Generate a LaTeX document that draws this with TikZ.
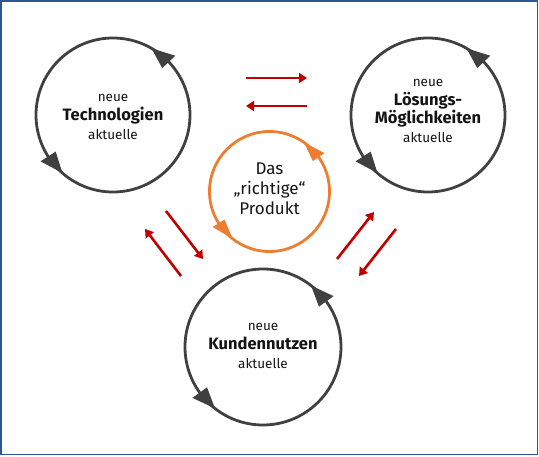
\documentclass[tikz,border=0pt]{standalone}
\usepackage{fontspec}
\setmainfont{Fira Sans}
\usetikzlibrary{arrows.meta}
\definecolor{cgray}{RGB}{64,64,64}
\definecolor{corange}{RGB}{237,125,49}
\definecolor{cred}{RGB}{192,0,0}
\definecolor{cblue}{RGB}{47,85,151}
\definecolor{ctext}{RGB}{20,20,20}
\newcommand{\bigb}[1]{{\fontsize{16.5}{19}\selectfont\bfseries #1}}
\begin{document}
\begin{tikzpicture}[x=1pt,y=1pt,
  loopc/.style={circle, draw=cgray, line width=2.8pt, inner sep=0pt},
  prodc/.style={circle, draw=corange, line width=2.8pt, inner sep=0pt},
  lbl/.style={align=center, text=ctext, inner sep=0pt, font=\fontsize{13.5}{18.7}\selectfont},
  lblc/.style={align=center, text=ctext, inner sep=0pt, font=\fontsize{17}{20}\selectfont},
  redarr/.style={draw=cred, line width=2.6pt, -{Triangle[length=8pt,width=10pt]}},
  ghead/.style={fill=cgray},
  ohead/.style={fill=corange}]
\useasboundingbox (0,0) rectangle (539,456);
\draw[cblue, line width=1.6pt] (0.8,1.7) rectangle (537.5,455.2);

% circles
\node[loopc, minimum size=154pt] (tech) at (113,341) {};
\node[loopc, minimum size=154pt] (loes) at (428,341) {};
\node[loopc, minimum size=156pt] (kund) at (263,109) {};
\node[prodc, minimum size=120pt] (prod) at (269.5,264.5) {};

% arrowheads on circles
\fill[ghead, shift={(tech.center)}] (60:77) -- (43.6:86) -- (43.6:68) -- cycle;
\fill[ghead, shift={(tech.center)}] (229:77) -- (212.6:86) -- (212.6:68) -- cycle;
\fill[ghead, shift={(loes.center)}] (60:77) -- (43.6:86) -- (43.6:68) -- cycle;
\fill[ghead, shift={(loes.center)}] (229:77) -- (212.6:86) -- (212.6:68) -- cycle;
\fill[ghead, shift={(kund.center)}] (52:78) -- (35.8:87) -- (35.8:69) -- cycle;
\fill[ghead, shift={(kund.center)}] (232:78) -- (215.8:87) -- (215.8:69) -- cycle;
\fill[ohead, shift={(prod.center)}] (55:60) -- (35:67) -- (35:53) -- cycle;
\fill[ohead, shift={(prod.center)}] (232:60) -- (212:67) -- (212:53) -- cycle;

% texts
\node[lbl] (techtxt) at (113,339) {neue\\ \bigb{Technologien}\\ aktuelle};
\node[lbl] (loestxt) at (428,345) {neue\\ \bigb{Lösungs-}\\ \bigb{Möglichkeiten}\\ aktuelle};
\node[lbl] (kundtxt) at (263,110) {neue\\ \bigb{Kundennutzen}\\ aktuelle};
\node[lblc] (prodtxt) at (269.5,267) {Das\\ „richtige“\\ Produkt};

% red arrows
\coordinate (a1s) at (246,378); \coordinate (a1e) at (307,378);
\coordinate (a2s) at (307,350); \coordinate (a2e) at (246,350);
\coordinate (l1s) at (166,245); \coordinate (l1e) at (203,197);
\coordinate (l2s) at (181,180); \coordinate (l2e) at (145,227);
\coordinate (r1s) at (337,197); \coordinate (r1e) at (374,244);
\coordinate (r2s) at (396,227); \coordinate (r2e) at (359,180);
\draw[redarr] (a1s) -- (a1e);
\draw[redarr] (a2s) -- (a2e);
\draw[redarr] (l1s) -- (l1e);
\draw[redarr] (l2s) -- (l2e);
\draw[redarr] (r1s) -- (r1e);
\draw[redarr] (r2s) -- (r2e);
\end{tikzpicture}
\end{document}
